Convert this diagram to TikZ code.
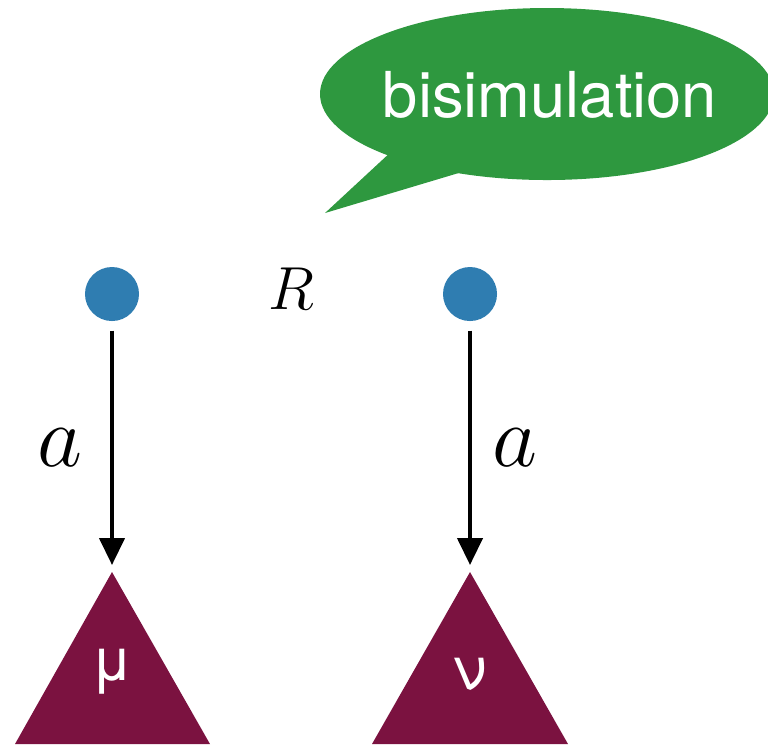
\documentclass[tikz,border=0pt]{standalone}
\usepackage{fontspec}
\setsansfont{TeX Gyre Heros}
\usetikzlibrary{arrows.meta}
\definecolor{dotblue}{HTML}{2F7DB1}
\definecolor{plum}{HTML}{7B1240}
\definecolor{bubblegreen}{HTML}{2E983F}
\begin{document}
\begin{tikzpicture}[x=0.01cm, y=-0.01cm,
        state/.style={circle, fill=dotblue, minimum size=0.54cm, inner sep=0pt},
        trans/.style={-{Triangle[width=0.25cm, length=0.27cm]}, line width=1.2pt, shorten <=0.09cm, shorten >=0.07cm}]
        \useasboundingbox (0,0) rectangle (768,744);
        % speech bubble
        \fill[bubblegreen] (547,94) ellipse [x radius=227, y radius=86];
        \fill[bubblegreen] (393,150) -- (325,213) -- (462,172) -- cycle;
        \node[text=white, font=\sffamily\fontsize{18}{20}\selectfont] (bisim) at (550,95) {bisimulation};
        % states
        \node[state] (p) at (112,294) {};
        \node[state] (q) at (470,294) {};
        \node[font=\fontsize{17}{20}\selectfont] (rel) at (291,289) {$R$};
        % distributions
        \coordinate (muTop) at (112,572);
        \coordinate (nuTop) at (470,572);
        \fill[plum] (muTop) -- (210,744) -- (15,744) -- cycle;
        \fill[plum] (nuTop) -- (568,744) -- (372,744) -- cycle;
        \node[text=white, font=\sffamily\fontsize{17}{20}\selectfont] (mu) at (112,672) {μ};
        \node[text=white, font=\sffamily\fontsize{17}{20}\selectfont] (nu) at (470,674) {ν};
        % transitions
        \draw[trans] (p.south) -- (muTop);
        \draw[trans] (q.south) -- (nuTop);
        \node[font=\fontsize{25}{30}\selectfont] (a1) at (60,448) {$a$};
        \node[font=\fontsize{25}{30}\selectfont] (a2) at (515,448) {$a$};
    \end{tikzpicture}
\end{document}
